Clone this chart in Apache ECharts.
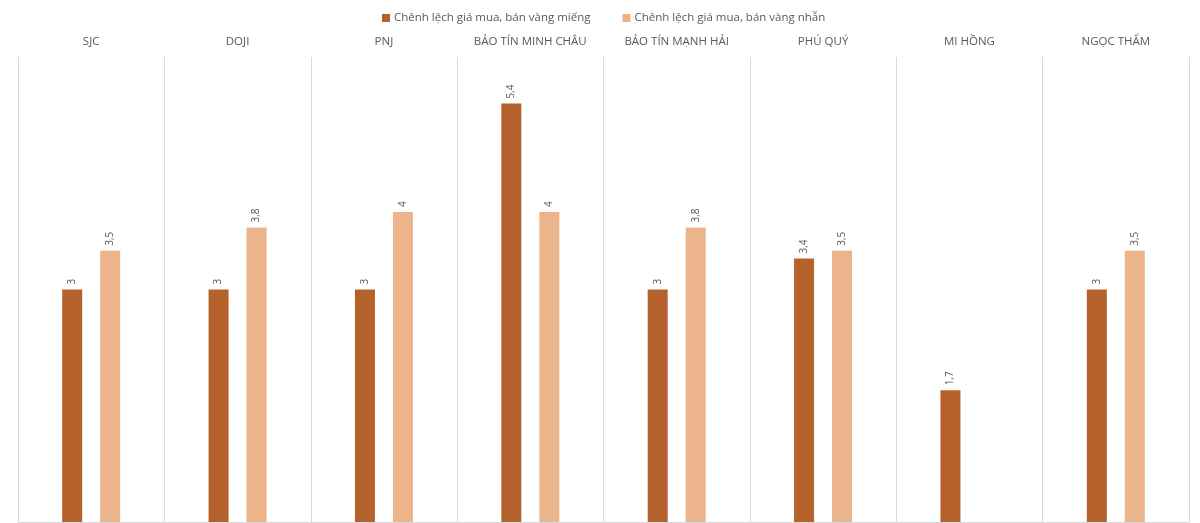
<!DOCTYPE html>
<html><head><meta charset="utf-8">
<script src="https://cdn.jsdelivr.net/npm/echarts@6/dist/echarts.min.js"></script>
<style>html,body{margin:0;padding:0;background:#fff}#c{width:1200px;height:523px}</style>
</head><body><div id="c"></div>
<script>
const categories = ['SJC','DOJI','PNJ','BẢO TÍN MINH CHÂU','BẢO TÍN MẠNH HẢI','PHÚ QUÝ','MI HỒNG','NGỌC THẨM'];
const seriesNames = ['Chênh lệch giá mua, bán vàng miếng','Chênh lệch giá mua, bán vàng nhẫn'];
const vangMieng = [3, 3, 3, 5.4, 3, 3.4, 1.7, 3];
const vangNhan = [3.5, 3.8, 4, 4, 3.8, 3.5, null, 3.5];

const chart = echarts.init(document.getElementById('c'));
const lbl = {
  show: true, position: 'top', rotate: 90, align: 'left', verticalAlign: 'middle', distance: 5,
  color: '#595959', fontSize: 10, fontFamily: 'Open Sans',
  formatter: p => String(p.value).replace('.', ',')
};
chart.setOption({
  animation: false,
  legend: {
    top: 7, left: 377, itemWidth: 8, itemHeight: 8, itemGap: 32, icon: 'rect',
    textStyle: { color: '#595959', fontSize: 11.5, fontFamily: 'Open Sans', padding: [0, 0, 0, -1] },
    data: seriesNames
  },
  grid: { left: 18, right: 11, top: 57, bottom: 1, containLabel: false },
  xAxis: [{
    type: 'category', data: categories, position: 'top',
    axisLine: { show: false }, axisTick: { show: false },
    axisLabel: { color: '#595959', fontSize: 11.5, fontFamily: 'Open Sans', margin: 9, interval: 0 },
    splitLine: { show: true, interval: 0, lineStyle: { color: '#d9d9d9', width: 1 } }
  }, {
    type: 'category', data: categories, position: 'bottom',
    axisLine: { show: true, lineStyle: { color: '#d9d9d9' } }, axisTick: { show: false },
    axisLabel: { show: false }, splitLine: { show: false }
  }],
  yAxis: { type: 'value', min: 0, max: 6, show: false, splitLine: { show: false } },
  series: [{
    name: seriesNames[0], type: 'bar', data: vangMieng, barWidth: 20, barGap: '90%',
    itemStyle: { color: '#B5612B' }, label: lbl
  }, {
    name: seriesNames[1], type: 'bar', data: vangNhan, barWidth: 20, barGap: '90%',
    itemStyle: { color: '#EBB48A' }, label: lbl
  }]
});
</script></body></html>
